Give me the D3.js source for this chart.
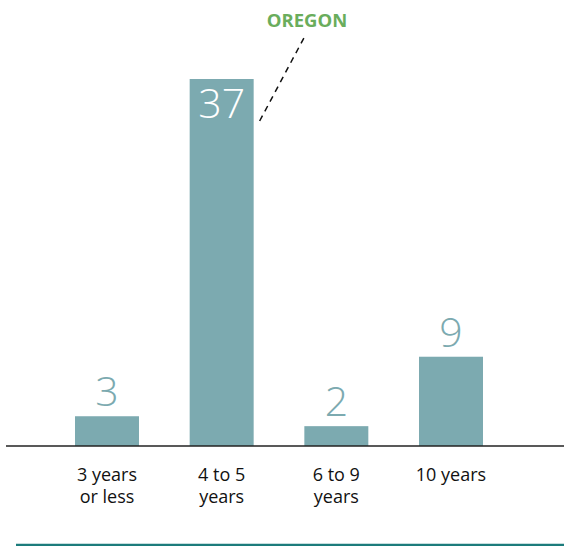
<!DOCTYPE html>
<html><head><meta charset="utf-8">
<script src="https://cdn.jsdelivr.net/npm/d3@7"></script>
<style>
html,body{margin:0;padding:0;background:#fff;}
svg{display:block;font-family:"Open Sans",sans-serif;}
</style></head>
<body>
<svg id="chart" width="564" height="546"></svg>
<script>
const categories = [["3 years","or less"],["4 to 5","years"],["6 to 9","years"],["10 years"]];
const values = [3, 37, 2, 9];
const highlightIndex = 1;
const highlightLabel = "OREGON";

const svg = d3.select("#chart");
const baseY = 446;
const x = d3.scaleBand().domain(d3.range(values.length)).range([17.67, 540.33]).paddingInner(0.442).paddingOuter(0.5);
const y = d3.scaleLinear().domain([0, 37]).range([baseY, 79]);
const barColor = "#7caab0";

svg.selectAll("rect.bar").data(values).join("rect")
  .attr("class","bar")
  .attr("x",(d,i)=>x(i)).attr("width",x.bandwidth())
  .attr("y",d=>y(d)).attr("height",d=>baseY-y(d))
  .attr("fill",barColor);

// value labels
svg.selectAll("text.val").data(values).join("text")
  .attr("class","val")
  .attr("x",(d,i)=>x(i)+x.bandwidth()/2)
  .attr("y",(d,i)=> i===highlightIndex ? y(d)+39 : y(d)-10)
  .attr("text-anchor","middle")
  .attr("font-size",41)
  .attr("font-weight",300)
  .attr("fill",(d,i)=> i===highlightIndex ? "#ffffff" : barColor)
  .text(d=>d);

// baseline
svg.append("line").attr("x1",6).attr("x2",564).attr("y1",baseY).attr("y2",baseY)
  .attr("stroke","#222").attr("stroke-width",1.5);

// category labels, one text element per line
const catLines = categories.flatMap((lines,i)=>lines.map((t,j)=>({i,j,t})));
svg.selectAll("text.cat").data(catLines).join("text")
  .attr("class","cat")
  .attr("x",d=>x(d.i)+x.bandwidth()/2)
  .attr("y",d=>481 + d.j*22)
  .attr("text-anchor","middle")
  .attr("font-size",18)
  .attr("fill","#111")
  .text(d=>d.t);

// annotation
const hx = x(highlightIndex)+x.bandwidth();
svg.append("line")
  .attr("x1",hx+6).attr("y1",y(values[highlightIndex])+42)
  .attr("x2",306).attr("y2",34)
  .attr("stroke","#111").attr("stroke-width",1.5).attr("stroke-dasharray","6,5");
svg.append("text").attr("x",307).attr("y",27).attr("text-anchor","middle")
  .attr("font-size",18.5).attr("font-weight",700).attr("fill","#6aad5c")
  .text(highlightLabel);

// bottom rule
svg.append("line").attr("x1",16).attr("x2",564).attr("y1",545).attr("y2",545)
  .attr("stroke","#1c7c7c").attr("stroke-width",2.5);
</script>
</body></html>
